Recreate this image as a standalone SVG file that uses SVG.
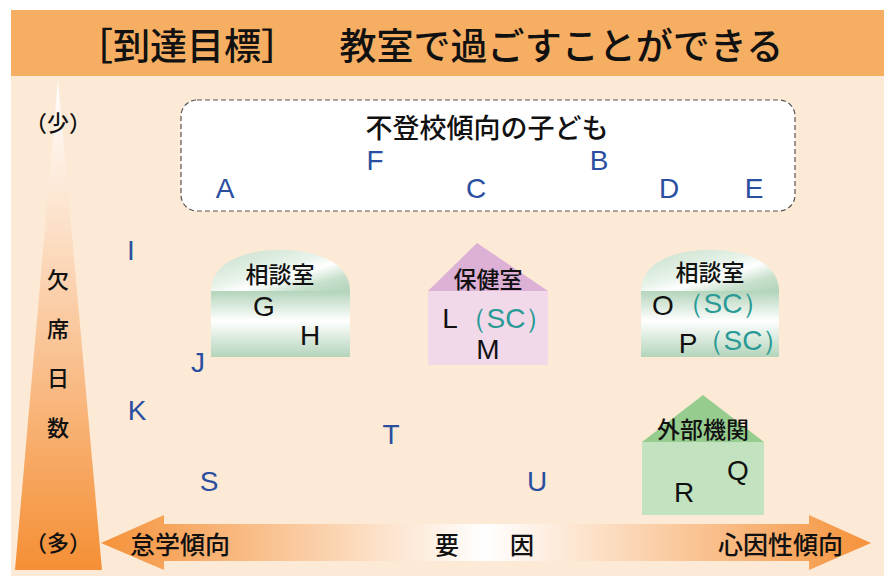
<svg xmlns="http://www.w3.org/2000/svg" width="889" height="576" viewBox="0 0 889 576">
<defs>
<linearGradient id="tri" x1="0" y1="0" x2="0" y2="1">
<stop offset="0" stop-color="#FFFFFF"/>
<stop offset="0.3" stop-color="#FCE0C8"/>
<stop offset="1" stop-color="#F58F35"/>
</linearGradient>
<linearGradient id="arr" x1="0" y1="0" x2="1" y2="0">
<stop offset="0" stop-color="#F5923A"/>
<stop offset="0.5" stop-color="#FFFFFF"/>
<stop offset="1" stop-color="#F5923A"/>
</linearGradient>
<linearGradient id="dome" x1="0" y1="0" x2="1" y2="1">
<stop offset="0" stop-color="#C4DEC9"/>
<stop offset="0.45" stop-color="#E8F3EA"/>
<stop offset="0.6" stop-color="#FFFFFF"/>
<stop offset="0.8" stop-color="#C7E0CC"/>
<stop offset="1" stop-color="#B2D4BA"/>
</linearGradient>
<linearGradient id="body" x1="0" y1="0" x2="0" y2="1">
<stop offset="0" stop-color="#B3D4BA"/>
<stop offset="0.45" stop-color="#FFFFFF"/>
<stop offset="1" stop-color="#B3D4BA"/>
</linearGradient>
<style>
.jp{font-family:"Noto Sans CJK JP","Noto Sans",sans-serif;fill:#111;font-weight:500;}
.lt{font-family:"Liberation Sans",Arial,sans-serif;}
.blue{fill:#2A4FA0;font-size:28px;}
.blk{fill:#111;font-size:28px;}
.sc{fill:#2A9A96;font-size:28px;}
</style>
</defs>
<rect x="0" y="0" width="889" height="576" fill="#FFFFFF"/>
<rect x="11" y="10" width="873" height="566" fill="#FCE9D6"/>
<rect x="11" y="10" width="873" height="66" fill="#F6AE62"/>
<text class="jp" x="76" y="60" font-size="37">［到達目標］<tspan dx="23">　教室で過ごすことができる</tspan></text>

<g id="axis-vertical">
<polygon points="58,80 102,570 15,570" fill="url(#tri)"/>
<text class="jp" x="58" y="131" font-size="22" text-anchor="middle">（少）</text>
<text class="jp" x="58" y="288" font-size="22" text-anchor="middle">欠</text>
<text class="jp" x="58" y="337" font-size="22" text-anchor="middle">席</text>
<text class="jp" x="58" y="386" font-size="22" text-anchor="middle">日</text>
<text class="jp" x="58" y="436" font-size="22" text-anchor="middle">数</text>
<text class="jp" x="58" y="551" font-size="22" text-anchor="middle">（多）</text>
</g>

<g id="axis-horizontal">
<polygon points="101,543 164,515 164,524 809,524 809,515 871,543 809,570 809,561 164,561 164,570" fill="url(#arr)"/>
<text class="jp" x="130" y="554" font-size="25">怠学傾向</text>
<text class="jp" x="447" y="554" font-size="24" text-anchor="middle">要</text>
<text class="jp" x="522" y="554" font-size="24" text-anchor="middle">因</text>
<text class="jp" x="843" y="554" font-size="25" text-anchor="end">心因性傾向</text>
</g>

<g id="futoukou">
<rect x="181" y="100" width="614" height="111" rx="16" fill="#FFFFFF" stroke="#555" stroke-width="1.2" stroke-dasharray="5,3"/>
<text class="jp" x="487" y="138" font-size="27" text-anchor="middle">不登校傾向の子ども</text>
<text class="lt blue" x="225" y="198" text-anchor="middle">A</text>
<text class="lt blue" x="375" y="170" text-anchor="middle">F</text>
<text class="lt blue" x="476" y="198" text-anchor="middle">C</text>
<text class="lt blue" x="599" y="170" text-anchor="middle">B</text>
<text class="lt blue" x="669" y="198" text-anchor="middle">D</text>
<text class="lt blue" x="754" y="198" text-anchor="middle">E</text>
</g>

<g id="loose-letters">
<text class="lt blue" x="131" y="260" text-anchor="middle">I</text>
<text class="lt blue" x="198" y="372" text-anchor="middle">J</text>
<text class="lt blue" x="137" y="420" text-anchor="middle">K</text>
<text class="lt blue" x="209" y="491" text-anchor="middle">S</text>
<text class="lt blue" x="391" y="444" text-anchor="middle">T</text>
<text class="lt blue" x="537" y="491" text-anchor="middle">U</text>
</g>

<g id="soudan1">
<path d="M211,291 C211,262 245,250 280,250 C316,250 350,262 350,291 Z" fill="url(#dome)"/>
<rect x="211" y="291" width="139" height="66" fill="url(#body)"/>
<text class="jp" x="280" y="283" font-size="23" text-anchor="middle">相談室</text>
<text class="lt blk" x="264" y="316" text-anchor="middle">G</text>
<text class="lt blk" x="310" y="345" text-anchor="middle">H</text>
</g>

<g id="hoken">
<polygon points="477,243 548,291 428,291" fill="#DDB0D6"/>
<rect x="428" y="291" width="120" height="74" fill="#F1D9E9"/>
<text class="jp" x="488" y="288" font-size="23" text-anchor="middle">保健室</text>
<text class="lt blk" x="450" y="328" text-anchor="middle">L</text>
<text class="lt sc" x="506" y="328" text-anchor="middle">（SC）</text>
<text class="lt blk" x="488" y="359" text-anchor="middle">M</text>
</g>

<g id="soudan2">
<path d="M641,291 C641,262 675,250 710,250 C745,250 779,262 779,291 Z" fill="url(#dome)"/>
<rect x="641" y="291" width="138" height="66" fill="url(#body)"/>
<text class="jp" x="710" y="281" font-size="23" text-anchor="middle">相談室</text>
<text class="lt blk" x="663" y="315" text-anchor="middle">O</text>
<text class="lt sc" x="723" y="313" text-anchor="middle">（SC）</text>
<text class="lt blk" x="688" y="353" text-anchor="middle">P</text>
<text class="lt sc" x="743" y="350" text-anchor="middle">（SC）</text>
</g>

<g id="gaibu">
<polygon points="703,395 764,442 642,442" fill="#96CC8E"/>
<rect x="642" y="442" width="122" height="73" fill="#C3E3C0"/>
<text class="jp" x="703" y="438" font-size="23" text-anchor="middle">外部機関</text>
<text class="lt blk" x="738" y="480" text-anchor="middle">Q</text>
<text class="lt blk" x="684" y="502" text-anchor="middle">R</text>
</g>
</svg>
